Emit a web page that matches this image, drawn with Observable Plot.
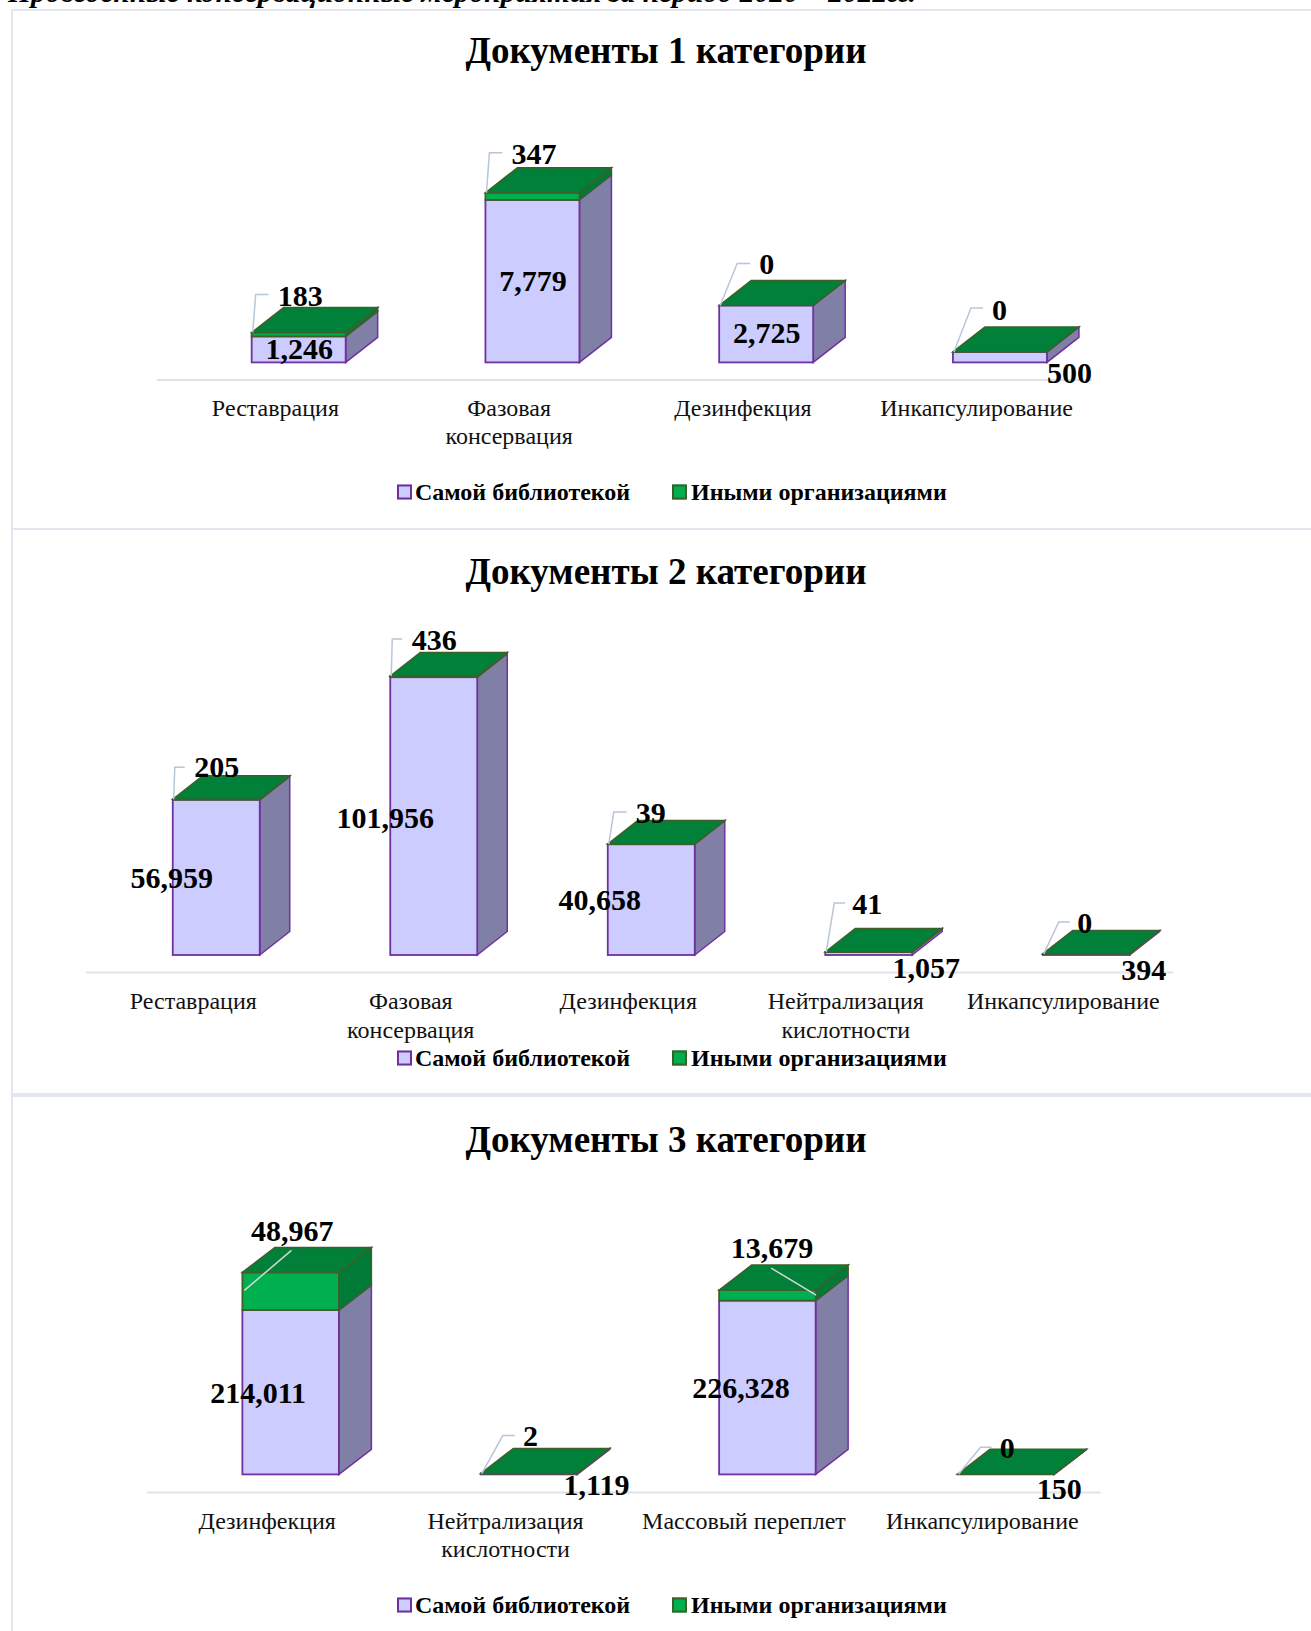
<!DOCTYPE html>
<html><head><meta charset="utf-8">
<script src="https://cdn.jsdelivr.net/npm/d3@7"></script>
<script src="https://cdn.jsdelivr.net/npm/@observablehq/plot@0.6"></script>
<style>
html,body{margin:0;padding:0;background:#fff;overflow:hidden}
body{width:1311px;height:1631px;position:relative;font-family:"Liberation Serif",serif;color:#000}
.abs{position:absolute;white-space:nowrap}
.panel{position:absolute;left:11px;right:-4px;border:2px solid #e2e7ef;box-sizing:border-box}
.title{font-weight:bold;font-size:37.1px;left:0;width:1332px;text-align:center;transform:translateY(-50%)}
.leg{font-weight:bold;font-size:24px;transform:translateY(-50%)}
.sw{position:absolute;width:11px;height:11px;border:2px solid;transform:translateY(-50%)}
svg{position:absolute;left:0;overflow:visible}
</style></head><body>
<script>
const heading = "Проведенные консервационные мероприятия за период 2020 – 2022гг.";
const seriesNames = ["Самой библиотекой","Иными организациями"];
const titles = ["Документы 1 категории","Документы 2 категории","Документы 3 категории"];

const cats1 = ["Реставрация","Фазовая\nконсервация","Дезинфекция","Инкапсулирование"];
const own1 = [1246,7779,2725,500];
const other1 = [183,347,0,0];

const cats2 = ["Реставрация","Фазовая\nконсервация","Дезинфекция","Нейтрализация\nкислотности","Инкапсулирование"];
const own2 = [56959,101956,40658,1057,394];
const other2 = [205,436,39,41,0];

const cats3 = ["Дезинфекция","Нейтрализация\nкислотности","Массовый переплет","Инкапсулирование"];
const own3 = [214011,1119,226328,150];
const other3 = [48967,2,13679,0];

// label nudges (px) from the default anchors, as the source chart placed them by hand
const ownNudge1 = [[0,-1],[0,0],[0,-1],[69,16]];
const otherNudge1 = [[1,-37],[1,-39],[0,-42],[-1,-42]];
const leader1 = [[[1,0],[4,-38],[17,-38]],[[1,0],[4,-40],[17,-40]],[[1,0],[18,-42],[31,-42]],[[1,0],[18,-44],[30,-44]]];

const ownNudge2 = [[-45,0],[-49,2],[-52,0],[57,14],[57,15]];
const otherNudge2 = [[0,-32],[0,-36],[-1,-31],[-2,-48],[-2,-31]];
const leader2 = [[[1,0],[2,-32],[12,-32]],[[1,0],[2,-37],[12,-37]],[[1,0],[6,-32],[19,-32]],[[1,0],[9,-49],[20,-49]],[[1,0],[16,-32],[27,-32]]];

const ownNudge3 = [[-33,1],[67,11],[-27,0],[53,15]];
const otherNudge3 = [[1,-42],[1,-38],[4,-42],[1,-26]];
const leader3 = [[[2,18],[49,-22]],[[1,0],[22,-38],[34,-38]],[[97,5],[52,-22]],[[1,0],[23,-27],[34,-27]]];

const panels = [
 {cats:cats1,own:own1,other:other1,ownNudge:ownNudge1,otherNudge:otherNudge1,leader:leader1,title:titles[0],
  top:9,titleY:50,svgTop:70,height:430,baseline:362.4,max:13525,left:157,right:1092,barW:94,shift:24.8,dx:32,dy:25,floor:17,labelDx:1,labelPad:33.5,legendY:492},
 {cats:cats2,own:own2,other:other2,ownNudge:ownNudge2,otherNudge:otherNudge2,leader:leader2,title:titles[1],
  top:528,titleY:571,svgTop:590,height:470,baseline:955,max:130275,left:86,right:1173.5,barW:87,shift:21.5,dx:30,dy:23.5,floor:17,labelDx:-2,labelPad:34,legendY:1058},
 {cats:cats3,own:own3,other:other3,ownNudge:ownNudge3,otherNudge:otherNudge3,leader:leader3,title:titles[2],
  top:1095,titleY:1139,svgTop:1160,height:440,baseline:1474.4,max:396354,left:147,right:1100.5,barW:96.5,shift:24.45,dx:32.5,dy:25,floor:17.5,labelDx:0.5,labelPad:34,legendY:1605}
];

const lilac="#CCCCFF", lilacSide="#8080A6", purple="#7030A0";
const green="#00B050", greenSide="#007A37", greenTop="#008038", greenEdge="#3F5F2A";
const serif='"Liberation Serif",serif';

function el(tag,cls,css,txt){const e=document.createElement(tag);e.className=cls;e.style.cssText=css;if(txt)e.textContent=txt;document.body.appendChild(e);return e;}

el("div","abs",`left:8px;top:-24px;font:italic bold 29.5px ${serif}`,heading);

panels.forEach((p,pi)=>{
  const nextTop = pi==0 ? panels[1].top+2 : pi==1 ? panels[2].top : 1700;
  el("div","panel",`top:${p.top}px;height:${nextTop-p.top}px`);
  el("div","abs title",`top:${p.titleY}px`,p.title);

  const ownRows = p.cats.map((c,i)=>({category:c,i,y1:0,y2:p.own[i],value:p.own[i]}));
  const otherRows = p.cats.map((c,i)=>({category:c,i,y1:p.own[i],y2:p.own[i]+p.other[i],value:p.other[i]}));

  const step=(p.right-p.left)/p.cats.length;
  const insetLeft=(step-p.barW)/2+p.shift, insetRight=(step-p.barW)/2-p.shift;

  const box = (rows,side,top)=>function(index,scales,values,dims,ctx,next){
    const g=next(index,scales,values,dims,ctx);
    const s=d3.select(g);
    const bw=scales.x.bandwidth();
    for(const i of index){
      const x0=values.x[i]+insetLeft, x1=values.x[i]+bw-insetRight;
      const yb=values.y1[i], yt=values.y2[i];
      const st=top?greenEdge:purple;
      s.insert("polygon",":first-child")
       .attr("points",[[x1,yb],[x1+p.dx,yb-p.dy],[x1+p.dx,yt-p.dy],[x1,yt]].join(" "))
       .attr("fill",side).attr("stroke",st).attr("stroke-width",1.5);
      if(top){
        s.append("polygon")
         .attr("points",[[x0,yt],[x0+p.dx,yt-p.dy],[x1+p.dx,yt-p.dy],[x1,yt]].join(" "))
         .attr("fill",greenTop).attr("stroke",greenEdge).attr("stroke-width",1.5);
      }
    }
    return g;
  };

  const leaderRender=function(index,scales,values,dims,ctx){
    const g=d3.select(ctx.document.createElementNS("http://www.w3.org/2000/svg","g"));
    otherRows.forEach((r,i)=>{
      const x0=scales.x(r.category)+insetLeft, yt=scales.y(r.y2);
      g.append("polyline").attr("points",p.leader[i].map(([a,b])=>[x0+a,yt+b]).join(" "))
       .attr("fill","none").attr("stroke",(p.leader[i].length==2)?"#d4d6da":"#b9c6d8").attr("stroke-width",1.5);
    });
    return g.node();
  };

  const cx=insetLeft+p.barW/2-step/2;
  const fmt=d3.format(",d");
  const marks=[
    Plot.ruleY([0],{dy:p.floor,stroke:"#dfe3e8",strokeWidth:2}),
    Plot.barY(ownRows,{x:"category",y1:"y1",y2:"y2",fill:lilac,stroke:purple,strokeWidth:1.8,insetLeft,insetRight,render:box(ownRows,lilacSide,false)}),
    Plot.barY(otherRows,{x:"category",y1:"y1",y2:"y2",fill:green,stroke:greenEdge,strokeWidth:1.8,insetLeft,insetRight,render:box(otherRows,greenSide,true)}),
    leaderRender,
    Plot.axisX({tickSize:0,tickPadding:p.labelPad,fontSize:24,lineHeight:1.17,label:null,fontFamily:serif,fill:"#111",dx:p.labelDx}),
    ...ownRows.map((r,i)=>Plot.text([r],{x:"category",y:d=>(d.y1+d.y2)/2,text:d=>fmt(d.value),dx:cx+p.ownNudge[i][0],dy:p.ownNudge[i][1],fontSize:30,fontWeight:"bold",fontFamily:serif,fill:"#000"})),
    ...otherRows.map((r,i)=>Plot.text([r],{x:"category",y:"y2",text:d=>fmt(d.value),dx:cx+p.otherNudge[i][0],dy:p.otherNudge[i][1],fontSize:30,fontWeight:"bold",fontFamily:serif,fill:"#000"}))
  ];
  const svg=Plot.plot({
    width:1311,height:p.height,
    marginLeft:p.left,marginRight:1311-p.right,marginTop:10,
    marginBottom:p.svgTop+p.height-p.baseline,
    x:{domain:p.cats,padding:0,round:false,axis:null},
    y:{domain:[0,p.max],axis:null},
    style:{background:"transparent",overflow:"visible"},
    marks
  });
  svg.style.top=p.svgTop+"px";
  document.body.appendChild(svg);

  el("div","sw",`left:397px;top:${p.legendY}px;background:${lilac};border-color:${purple}`);
  el("div","abs leg",`left:415px;top:${p.legendY}px`,seriesNames[0]);
  el("div","sw",`left:672px;top:${p.legendY}px;background:${green};border-color:${greenEdge}`);
  el("div","abs leg",`left:691px;top:${p.legendY}px`,seriesNames[1]);
});
</script>
</body></html>
